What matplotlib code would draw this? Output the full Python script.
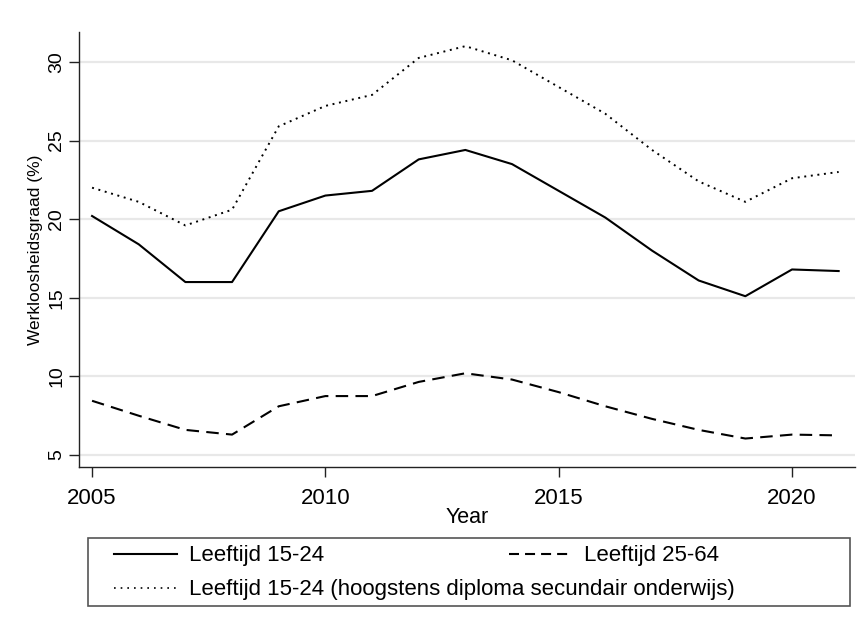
import matplotlib.pyplot as plt
from matplotlib.lines import Line2D
from matplotlib.patches import Rectangle

plt.rcParams['font.family'] = ['Liberation Sans', 'DejaVu Sans']

years = list(range(2005, 2022))
age_15_24 = [20.2, 18.4, 16.0, 16.0, 20.5, 21.5, 21.8, 23.8, 24.4, 23.5,
             21.8, 20.1, 18.0, 16.1, 15.1, 16.8, 16.7]
age_25_64 = [8.45, 7.5, 6.6, 6.3, 8.1, 8.75, 8.75, 9.65, 10.2, 9.8,
             9.0, 8.1, 7.3, 6.6, 6.05, 6.3, 6.25]
age_15_24_low = [22.0, 21.1, 19.6, 20.6, 25.9, 27.2, 27.9, 30.25, 31.0, 30.1,
                 28.4, 26.7, 24.4, 22.4, 21.1, 22.6, 23.0]

labels = ["Leeftijd 15-24", "Leeftijd 25-64",
          "Leeftijd 15-24 (hoogstens diploma secundair onderwijs)"]
x_ticks = [2005, 2010, 2015, 2020]
y_ticks = [5, 10, 15, 20, 25, 30]

fig = plt.figure(figsize=(8.63, 6.35), dpi=100)
ax = fig.add_axes([79 / 863, 1 - 467 / 635, (855 - 79) / 863, (467 - 32) / 635])

ax.plot(years, age_15_24, color='black', lw=1.5, linestyle='-')
ax.plot(years, age_25_64, color='black', lw=1.5, linestyle=(0, (6, 3.5)))
ax.plot(years, age_15_24_low, color='black', lw=1.4, linestyle=(0, (1, 2.4)))

ax.set_xlim(2004.72, 2021.35)
ax.set_ylim(4.24, 31.9)
ax.set_xticks(x_ticks)
ax.set_yticks(y_ticks)
ax.grid(axis='y', color='#e8e8e8', lw=1.6)
ax.set_axisbelow(True)
for s in ['top', 'right']:
    ax.spines[s].set_visible(False)
for s in ['left', 'bottom']:
    ax.spines[s].set_color('#222222')
    ax.spines[s].set_linewidth(1.0)
ax.tick_params(axis='both', direction='out', length=7, width=1.0, color='#222222')
ax.tick_params(axis='x', labelsize=16, pad=8)
ax.tick_params(axis='y', labelsize=14, pad=3)
plt.setp(ax.get_yticklabels(), rotation=90, va='center')
ax.set_xlabel("Year", fontsize=15.5, labelpad=-1)
ax.set_ylabel("Werkloosheidsgraad (%)", fontsize=12.5, labelpad=4)

# legend frame and entries
fig.patches.append(Rectangle((88 / 863, 1 - 606 / 635), (850 - 88) / 863, (606 - 538) / 635,
                             transform=fig.transFigure, fill=False,
                             edgecolor='#555555', lw=1.2))
h_solid = Line2D([], [], color='black', lw=1.5, linestyle='-')
h_dash = Line2D([], [], color='black', lw=1.5, linestyle=(0, (4.8, 2.9)))
h_dot = Line2D([], [], color='black', lw=1.2, linestyle=(0, (1, 3)))
fig.legend([h_solid, h_dash], labels[:2], ncol=2, frameon=False,
           loc='center left', bbox_to_anchor=(114 / 863, 1 - 556 / 635),
           fontsize=16, handlelength=2.84, handletextpad=0.54, columnspacing=8.3,
           borderpad=0, borderaxespad=0)
fig.legend([h_dot], labels[2:], frameon=False,
           loc='center left', bbox_to_anchor=(114 / 863, 1 - 590 / 635),
           fontsize=16, handlelength=2.84, handletextpad=0.54,
           borderpad=0, borderaxespad=0)

fig.savefig("out.png", dpi=100)
